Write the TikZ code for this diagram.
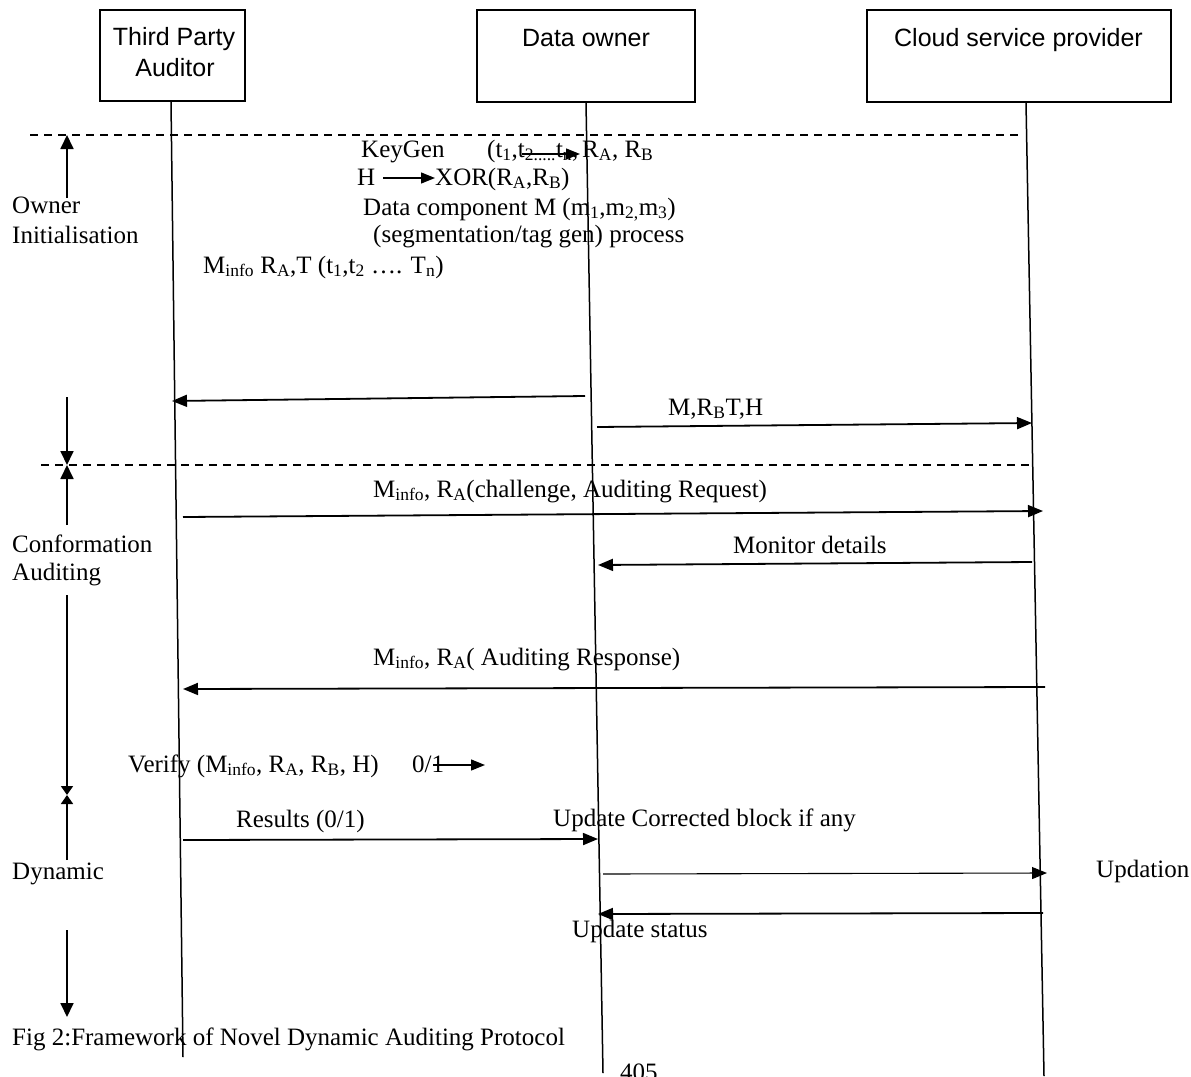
\documentclass[tikz,border=0pt]{standalone}
\usepackage{fontspec}
\setmainfont{Liberation Serif}
\setsansfont{Liberation Sans}
\usetikzlibrary{arrows.meta}
\newcommand\sbs[1]{\textsubscript{#1}}
\begin{document}
\begin{tikzpicture}[x=1pt,y=-1pt,
  font=\fontsize{25}{30}\selectfont,
  box/.style={draw, line width=1.3pt, inner sep=0pt},
  hdr/.style={font=\sffamily\fontsize{25}{30}\selectfont, inner sep=0pt, anchor=base},
  life/.style={line width=1.5pt},
  msg/.style={line width=1.8pt, -{Triangle[length=15pt,width=12pt]}},
  thinmsg/.style={line width=1.1pt, -{Triangle[length=15pt,width=12pt]}},
  small/.style={line width=1.3pt, -{Triangle[length=14pt,width=11pt]}},
  phase/.style={line width=1.8pt, -{Triangle[length=14pt,width=13pt]}},
  sep/.style={line width=1.3pt, dash pattern=on 8pt off 6pt},
  txt/.style={inner sep=0pt, anchor=base west}]
\useasboundingbox (0,0) rectangle (1191,1076);

% participant boxes
\node[box, minimum width=145pt, minimum height=91pt] (tpa) at (172.5,55.5) {};
\node[box, minimum width=218pt, minimum height=92pt] (dow) at (586,56) {};
\node[box, minimum width=304pt, minimum height=92pt] (csp) at (1019,56) {};
\node[hdr] (tpa1) at (174,45) {Third Party};
\node[hdr] (tpa2) at (175,76) {Auditor};
\node[hdr] (dowl) at (586,46) {Data owner};
\node[hdr] (cspl) at (1018.5,46) {Cloud service provider};

% lifelines
\coordinate (tpaend) at (183,1057);
\coordinate (dowend) at (603,1073);
\coordinate (cspend) at (1044,1076);
\draw[life] ([xshift=-1.5pt]tpa.south) -- (tpaend);
\draw[life] (dow.south) -- (dowend);
\draw[life] ([xshift=7pt]csp.south) -- (cspend);

% separators
\coordinate (s1a) at (30,135); \coordinate (s1b) at (1022,135);
\coordinate (s2a) at (41,465); \coordinate (s2b) at (1032,465);
\draw[sep] (s1a) -- (s1b);
\draw[sep] (s2a) -- (s2b);

% phase markers
\coordinate (p1a) at (67,198); \coordinate (p1b) at (67,135);
\coordinate (p2a) at (67,397); \coordinate (p2m) at (67,465); \coordinate (p2b) at (67,525);
\coordinate (p3a) at (67,595); \coordinate (p3m) at (67,795); \coordinate (p3b) at (67,860);
\coordinate (p4a) at (67,930); \coordinate (p4b) at (67,1017);
\draw[phase] (p1a) -- (p1b);
\draw[phase] (p2a) -- (p2m);
\draw[phase] (p2b) -- (p2m);
\draw[phase, -{Triangle[length=9pt,width=12pt]}] (p3a) -- (p3m);
\draw[phase, -{Triangle[length=9pt,width=12pt]}] (p3b) -- (p3m);
\draw[phase] (p4a) -- (p4b);

\node[txt] (own) at (12,213) {Owner};
\node[txt] (ini) at (12,243) {Initialisation};
\node[txt] (con) at (12,552) {Conformation};
\node[txt] (aud) at (12,580) {Auditing};
\node[txt] (dyn) at (12,879) {Dynamic};
\node[txt] (cap) at (12,1045) {Fig 2:Framework of Novel Dynamic Auditing Protocol};
\node[txt] (pg) at (620,1080) {405};

% owner initialisation text
\node[txt] (kg) at (361,157) {KeyGen};
\node[txt] (kt) at (487,157) {(t\sbs{1},t\sbs{2.....}t\sbs{n},};
\node[txt] (kr) at (582,157) {R\sbs{A}, R\sbs{B}};
\coordinate (ka) at (522,154); \coordinate (kb) at (580,154);
\draw[small] (ka) -- (kb);
\node[txt] (hh) at (357,185) {H};
\node[txt] (xor) at (435,185) {XOR(R\sbs{A},R\sbs{B})};
\coordinate (ha) at (383,178); \coordinate (hb) at (435,178);
\draw[small] (ha) -- (hb);
\node[txt] (dc) at (363,215) {Data component M (m\sbs{1},m\sbs{2,}m\sbs{3})};
\node[txt] (seg) at (373,242) {(segmentation/tag gen) process};
\node[txt] (mi) at (203,273) {M\sbs{info} R\sbs{A},T (t\sbs{1},t\sbs{2} …. T\sbs{n})};

% messages
\coordinate (m1a) at (585,396); \coordinate (m1b) at (172,401);
\draw[msg] (m1a) -- (m1b);
\coordinate (m2a) at (597,427); \coordinate (m2b) at (1032,423);
\draw[msg] (m2a) -- (m2b);
\node[txt] (mrb) at (668,415) {M,R\sbs{B}T,H};

\coordinate (m3a) at (183,517); \coordinate (m3b) at (1043,511);
\draw[msg] (m3a) -- (m3b);
\node[txt] (req) at (373,497) {M\sbs{info}, R\sbs{A}(challenge, Auditing Request)};

\coordinate (m4a) at (1032,562); \coordinate (m4b) at (598,565);
\draw[msg] (m4a) -- (m4b);
\node[txt] (mon) at (733,553) {Monitor details};

\coordinate (m5a) at (1045,687); \coordinate (m5b) at (183,689);
\draw[msg] (m5a) -- (m5b);
\node[txt] (resp) at (373,665) {M\sbs{info}, R\sbs{A}( Auditing Response)};

\node[txt] (ver) at (128,772) {Verify (M\sbs{info}, R\sbs{A}, R\sbs{B}, H)};
\node[txt] (zo) at (412,772) {0/1};
\coordinate (va) at (433,765); \coordinate (vb) at (485,765);
\draw[small] (va) -- (vb);

\coordinate (m6a) at (183,840); \coordinate (m6b) at (598,839);
\draw[msg] (m6a) -- (m6b);
\node[txt] (res) at (236,827) {Results (0/1)};
\node[txt] (upc) at (553,826) {Update Corrected block if any};

\coordinate (m7a) at (603,874); \coordinate (m7b) at (1047,873);
\draw[thinmsg] (m7a) -- (m7b);
\node[txt] (upd) at (1096,877) {Updation};

\coordinate (m8a) at (1043,913); \coordinate (m8b) at (598,914);
\draw[msg] (m8a) -- (m8b);
\node[txt] (ups) at (572,937) {Update status};
\end{tikzpicture}
\end{document}
